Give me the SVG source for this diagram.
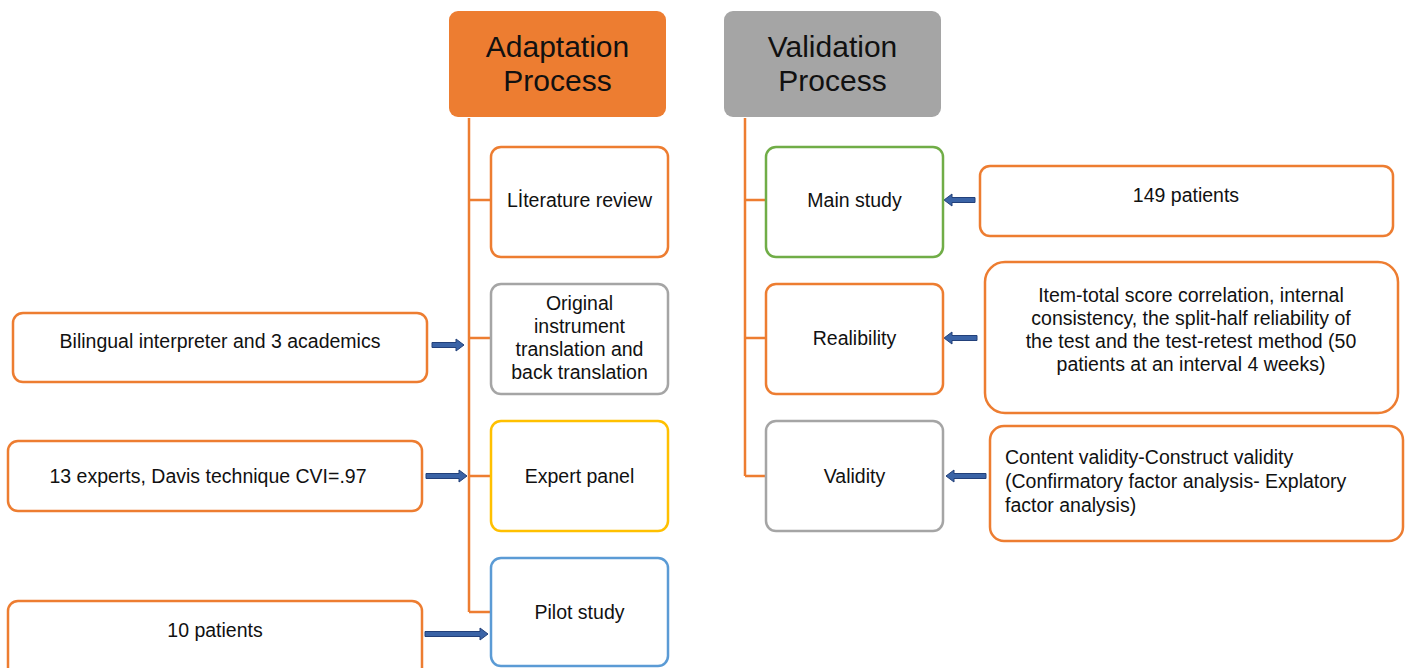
<svg xmlns="http://www.w3.org/2000/svg" width="1405" height="668" viewBox="0 0 1405 668">
<style>
  text { font-family: "Liberation Sans", Arial, sans-serif; fill: #111; }
  .hd { font-size: 30px; text-anchor: middle; }
  .t { font-size: 19.5px; text-anchor: middle; }
  .tl { font-size: 19.5px; text-anchor: start; }
  .box { fill: #fff; stroke-width: 2.5; }
  .or { stroke: #ED7D31; }
  .gr { stroke: #70AD47; }
  .gy { stroke: #A5A5A5; }
  .ye { stroke: #FFC000; }
  .bl { stroke: #5B9BD5; }
  .ln { stroke: #ED7D31; stroke-width: 2.5; fill: none; }
  .ar { fill: #3A63A6; stroke: #22407A; stroke-width: 1; }
</style>
<rect width="1405" height="668" fill="#fff"/>
<g id="connectors">
  <path class="ln" d="M469 118 V612 M469 200 H491 M469 338 H491 M469 476 H491 M469 612 H491"/>
  <path class="ln" d="M745 118 V476 M745 200 H766 M745 338 H766 M745 476 H766"/>
  <polygon class="ar" points="432,342.5 456,342.5 456,339 464,345 456,351 456,347.5 432,347.5"/>
  <polygon class="ar" points="426,473.5 459,473.5 459,470 467,476 459,482 459,478.5 426,478.5"/>
  <polygon class="ar" points="425,631.5 480,631.5 480,628 488,634 480,640 480,636.5 425,636.5"/>
  <polygon class="ar" points="975,197.5 952,197.5 952,194 944,200 952,206 952,202.5 975,202.5"/>
  <polygon class="ar" points="977,335.5 952,335.5 952,332 944,338 952,344 952,340.5 977,340.5"/>
  <polygon class="ar" points="986,473.5 954,473.5 954,470 946,476 954,482 954,478.5 986,478.5"/>
</g>
<g id="adaptation">
  <rect x="449" y="11" width="217" height="106" rx="9" fill="#ED7D31"/>
  <text class="hd" x="557.5" y="57">Adaptation</text>
  <text class="hd" x="557.5" y="91">Process</text>
</g>
<g id="validation">
  <rect x="724" y="11" width="217" height="106" rx="9" fill="#A5A5A5"/>
  <text class="hd" x="832.5" y="57">Validation</text>
  <text class="hd" x="832.5" y="91">Process</text>
</g>
<g id="literature">
  <rect class="box or" x="491" y="147" width="177" height="110" rx="10"/>
  <text class="t" x="579.5" y="207">Lİterature review</text>
</g>
<g id="translation">
  <rect class="box gy" x="491" y="284" width="177" height="110" rx="10"/>
  <text class="t" x="579.5" y="310">Original</text>
  <text class="t" x="579.5" y="333">instrument</text>
  <text class="t" x="579.5" y="356">translation and</text>
  <text class="t" x="579.5" y="379">back translation</text>
</g>
<g id="expert">
  <rect class="box ye" x="491" y="421" width="177" height="110" rx="10"/>
  <text class="t" x="579.5" y="483">Expert panel</text>
</g>
<g id="pilot">
  <rect class="box bl" x="491" y="558" width="177" height="108" rx="10"/>
  <text class="t" x="579.5" y="619">Pilot study</text>
</g>
<g id="main">
  <rect class="box gr" x="766" y="147" width="177" height="110" rx="10"/>
  <text class="t" x="854.5" y="207">Main study</text>
</g>
<g id="reliability">
  <rect class="box or" x="766" y="284" width="177" height="110" rx="10"/>
  <text class="t" x="854.5" y="345">Realibility</text>
</g>
<g id="validity">
  <rect class="box gy" x="766" y="421" width="177" height="110" rx="10"/>
  <text class="t" x="854.5" y="483">Validity</text>
</g>
<g id="bilingual">
  <rect class="box or" x="13" y="313" width="414" height="69" rx="10"/>
  <text class="t" x="220" y="348">Bilingual interpreter and 3 academics</text>
</g>
<g id="experts13">
  <rect class="box or" x="8" y="441" width="414" height="70" rx="10"/>
  <text class="t" x="208" y="483">13 experts, Davis technique CVI=.97</text>
</g>
<g id="patients10">
  <rect class="box or" x="8" y="601" width="414" height="80" rx="10"/>
  <text class="t" x="215" y="637">10 patients</text>
</g>
<g id="patients149">
  <rect class="box or" x="980" y="166" width="413" height="70" rx="10"/>
  <text class="t" x="1186" y="202">149 patients</text>
</g>
<g id="reliability-detail">
  <rect class="box or" x="985" y="262" width="413" height="151" rx="20"/>
  <text class="t" x="1191" y="302">Item-total score correlation, internal</text>
  <text class="t" x="1191" y="325">consistency, the split-half reliability of</text>
  <text class="t" x="1191" y="348">the test and the test-retest method (50</text>
  <text class="t" x="1191" y="371">patients at an interval 4 weeks)</text>
</g>
<g id="validity-detail">
  <rect class="box or" x="990" y="426" width="413" height="115" rx="14"/>
  <text class="tl" x="1005" y="464">Content validity-Construct validity</text>
  <text class="tl" x="1005" y="488">(Confirmatory factor analysis- Explatory</text>
  <text class="tl" x="1005" y="512">factor analysis)</text>
</g>
</svg>
